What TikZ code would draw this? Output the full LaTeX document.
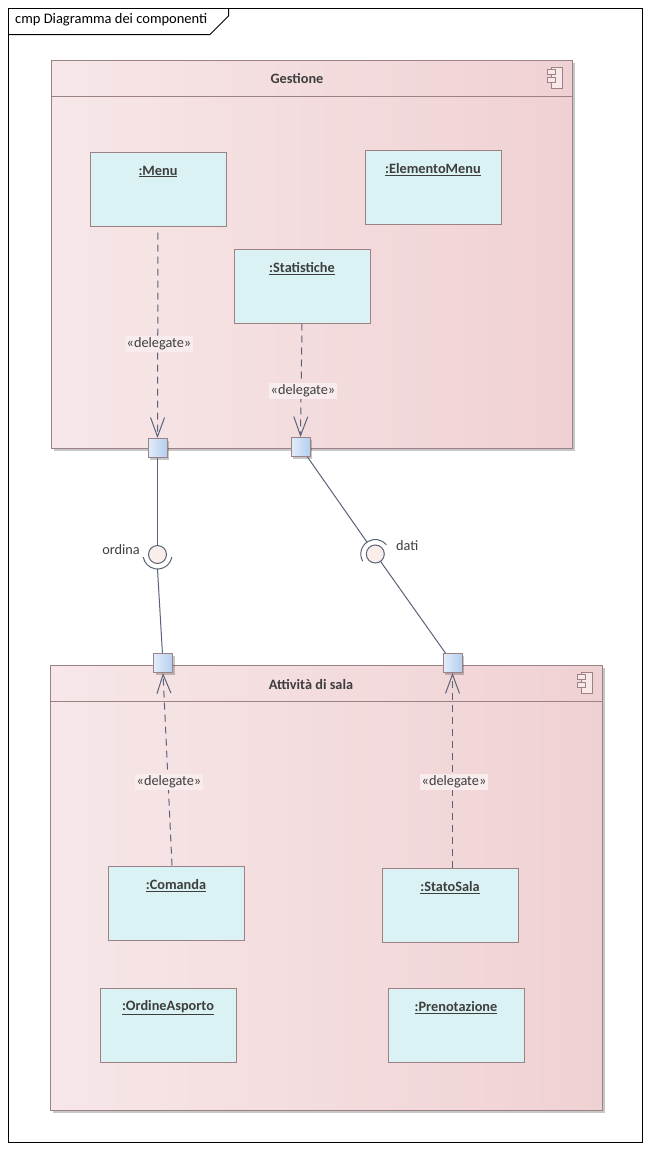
\documentclass[tikz,border=0pt]{standalone}
\usepackage{fontspec}
\setmainfont{Carlito}
\usetikzlibrary{arrows.meta,shadows,calc}
\definecolor{compL}{HTML}{F7E7E8}
\definecolor{compR}{HTML}{F0D1D3}
\definecolor{bord}{HTML}{9C8284}
\definecolor{instfill}{HTML}{DAF2F3}
\definecolor{portL}{HTML}{E2EDFA}
\definecolor{portR}{HTML}{B5CEEE}
\definecolor{linec}{HTML}{5A6378}
\definecolor{txt}{HTML}{3E3E3E}
\definecolor{ballfill}{HTML}{FAEEEA}
\definecolor{labfill}{HTML}{F8ECEC}
\definecolor{iconfill}{HTML}{F8E8E8}
\begin{document}
\begin{tikzpicture}[x=1pt,y=-1pt,
  font=\fontsize{14.3}{17}\selectfont, text=txt,
  comp/.style={draw=bord, line width=1pt, left color=compL, right color=compR,
    rectangle, anchor=north west, inner sep=0pt,
    drop shadow={shadow xshift=3pt, shadow yshift=-3pt, fill=black, opacity=.22}},
  comptitle/.style={font=\bfseries\fontsize{14.3}{17}\selectfont, inner sep=0pt},
  inst/.style={draw=bord, line width=1pt, fill=instfill, rectangle, anchor=north west,
    minimum width=136pt, minimum height=74pt, inner sep=0pt},
  instlab/.style={font=\bfseries\fontsize{14.3}{17}\selectfont, anchor=center, yshift=-20pt, inner sep=0pt},
  port/.style={draw=bord, line width=1pt, left color=portL, right color=portR,
    rectangle, minimum size=19pt, inner sep=0pt,
    drop shadow={shadow xshift=2pt, shadow yshift=-2pt, fill=black, opacity=.22}},
  deleg/.style={draw=linec, line width=1pt, dash pattern=on 7pt off 5pt,
    -{Straight Barb[length=19pt, width=14pt]}},
  conn/.style={draw=linec, line width=1pt},
  dlab/.style={fill=labfill, inner sep=1.5pt},
  ball/.style={circle, draw=linec, line width=1pt, fill=ballfill, minimum size=18pt, inner sep=0pt},
  sock/.style={draw=linec, line width=1pt},
  compicon/.pic={
    \draw[bord, fill=iconfill, line width=1pt] (0,0) rectangle (11,21);
    \draw[bord, fill=iconfill, line width=1pt] (-4,2) rectangle (4,7);
    \draw[bord, fill=iconfill, line width=1pt] (-4,10) rectangle (4,15);
  }
]
\useasboundingbox (0,0) rectangle (652,1151);
\fill[white] (0,0) rectangle (652,1151);

% frame
\draw[black, line width=1pt] (8.5,8.5) rectangle (642.5,1142.5);
\draw[black, line width=1pt] (8.5,34.5) -- (210,34.5) -- (228.5,16) -- (228.5,8.5);
\node[anchor=west, inner sep=0pt, text=black, font=\fontsize{14.5}{17}\selectfont] (ftitle) at (15,20) {cmp Diagramma dei componenti};

% Gestione component
\node[comp, minimum width=521pt, minimum height=388pt] (gest) at (50.5,59.5) {};
\draw[bord, line width=1pt] ($(gest.north west)+(0,37)$) -- ($(gest.north east)+(0,37)$);
\node[comptitle] (gestT) at (297,79) {Gestione};
\pic at (551.5,67.5) {compicon};

% Attivita component
\node[comp, minimum width=552pt, minimum height=445pt] (att) at (49.5,664.5) {};
\draw[bord, line width=1pt] ($(att.north west)+(0,37)$) -- ($(att.north east)+(0,37)$);
\node[comptitle] (attT) at (311,685) {Attività di sala};
\pic at (581.5,672.5) {compicon};

% instances in Gestione
\node[inst, label={[instlab]north:{\underline{:Menu}}}] (menu) at (89.5,151.5) {};
\node[inst, label={[instlab]north:{\underline{:ElementoMenu}}}] (elem) at (364.5,149.5) {};
\node[inst, label={[instlab]north:{\underline{:Statistiche}}}] (stat) at (233.5,248.5) {};

% instances in Attivita
\node[inst, label={[instlab]north:{\underline{:Comanda}}}] (com) at (107.5,865.5) {};
\node[inst, label={[instlab]north:{\underline{:OrdineAsporto}}}] (ord) at (99.5,987.5) {};
\node[inst, label={[instlab]north:{\underline{:StatoSala}}}] (sala) at (381.5,867.5) {};
\node[inst, label={[instlab]north:{\underline{:Prenotazione}}}] (pren) at (387.5,987.5) {};

% ports
\node[port] (pG1) at (157.5,448) {};
\node[port] (pG2) at (300.5,447) {};
\node[port] (pA1) at (163,663) {};
\node[port] (pA2) at (452.5,663) {};

% delegates
\draw[deleg, shorten <=6pt] (menu.south) -- (pG1.north);
\draw[deleg] (stat.south) -- (pG2.north);
\draw[deleg] (com.north -| 172,0) -- (pA1.south);
\draw[deleg] (sala.north -| 452.5,0) -- (pA2.south);
\node[dlab] (dl1) at (159,344) {«delegate»};
\node[dlab] (dl2) at (303,391) {«delegate»};
\node[dlab] (dl3) at (169,782) {«delegate»};
\node[dlab] (dl4) at (454,782) {«delegate»};

% interfaces
\node[ball] (ball1) at (157.5,554.5) {};
\coordinate (sock1) at ($(ball1)+(90:14.5)$);
\draw[sock] ($(ball1)+(10:14.5)$) arc[start angle=10, end angle=170, radius=14.5];
\draw[conn] (pG1) -- (ball1);
\draw[conn] (sock1) -- (pA1);
\node[anchor=east, inner sep=0pt] (lord) at (140,550) {ordina};

\node[ball] (ball2) at (375.3,554) {};
\coordinate (sock2) at ($(ball2)+(235:14.5)$);
\draw[sock] ($(ball2)+(150:14.5)$) arc[start angle=150, end angle=320, radius=14.5];
\draw[conn] (pG2) -- (sock2);
\draw[conn] (ball2) -- (pA2);
\node[anchor=west, inner sep=0pt] (ldat) at (396,546) {dati};
\end{tikzpicture}
\end{document}
